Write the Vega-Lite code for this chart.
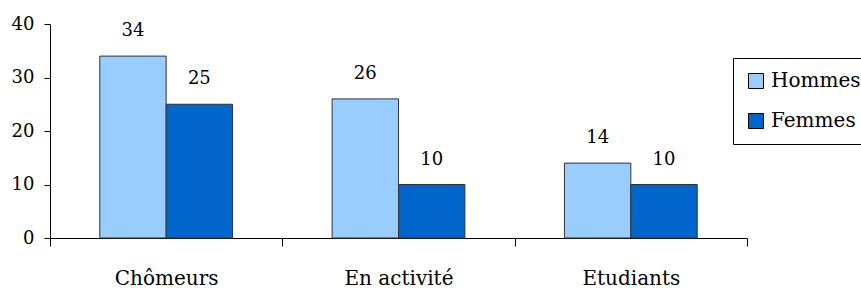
{
  "$schema": "https://vega.github.io/schema/vega-lite/v6.json",
  "width": 697,
  "height": 214,
  "autosize": {"type": "none"},
  "padding": {"left": 50, "top": 24, "right": 114, "bottom": 50},
  "background": "white",
  "config": {
    "view": {"stroke": null},
    "font": "DejaVu Serif",
    "axis": {"labelFont": "DejaVu Serif", "labelColor": "black", "domainColor": "black", "tickColor": "black", "grid": false, "title": null},
    "legend": {"labelFont": "DejaVu Serif"},
    "text": {"font": "DejaVu Serif"}
  },
  "data": {
    "values": [
      {"categorie": "Chômeurs", "sexe": "Hommes", "valeur": 34},
      {"categorie": "Chômeurs", "sexe": "Femmes", "valeur": 25},
      {"categorie": "En activité", "sexe": "Hommes", "valeur": 26},
      {"categorie": "En activité", "sexe": "Femmes", "valeur": 10},
      {"categorie": "Etudiants", "sexe": "Hommes", "valeur": 14},
      {"categorie": "Etudiants", "sexe": "Femmes", "valeur": 10}
    ]
  },
  "encoding": {
    "x": {
      "field": "categorie", "type": "nominal", "sort": ["Chômeurs", "En activité", "Etudiants"],
      "scale": {"paddingInner": 0, "paddingOuter": 0},
      "axis": {"labelAngle": 0, "labelFontSize": 20, "tickBand": "extent", "tickSize": 8, "labelBaseline": "alphabetic", "labelPadding": 38, "labelFont": "DejaVu Serif"}
    },
    "xOffset": {"field": "sexe", "type": "nominal", "sort": ["Hommes", "Femmes"], "scale": {"paddingInner": 0, "paddingOuter": 0.75}},
    "y": {
      "field": "valeur", "type": "quantitative",
      "scale": {"domain": [0, 40], "nice": false},
      "axis": {"values": [0, 10, 20, 30, 40], "labelFontSize": 18, "tickSize": 6, "labelPadding": 10, "labelFont": "DejaVu Serif"}
    }
  },
  "layer": [
    {
      "mark": {"type": "bar", "stroke": "#333333", "strokeWidth": 1},
      "encoding": {
        "color": {
          "field": "sexe", "type": "nominal", "sort": ["Hommes", "Femmes"],
          "scale": {"domain": ["Hommes", "Femmes"], "range": ["#99CCFF", "#0066CC"]},
          "legend": {
            "title": null, "orient": "none", "legendX": 683, "legendY": 34,
            "strokeColor": "black", "padding": 13, "fillColor": "white",
            "symbolType": "square", "symbolSize": 225, "symbolStrokeColor": "black", "symbolStrokeWidth": 1,
            "labelFontSize": 20, "labelColor": "black", "labelFont": "DejaVu Serif",
            "rowPadding": 20, "labelOffset": 5
          }
        }
      }
    },
    {
      "mark": {"type": "text", "baseline": "alphabetic", "dy": -20, "fontSize": 18, "color": "black", "font": "DejaVu Serif"},
      "encoding": {"text": {"field": "valeur", "type": "quantitative"}}
    }
  ]
}
